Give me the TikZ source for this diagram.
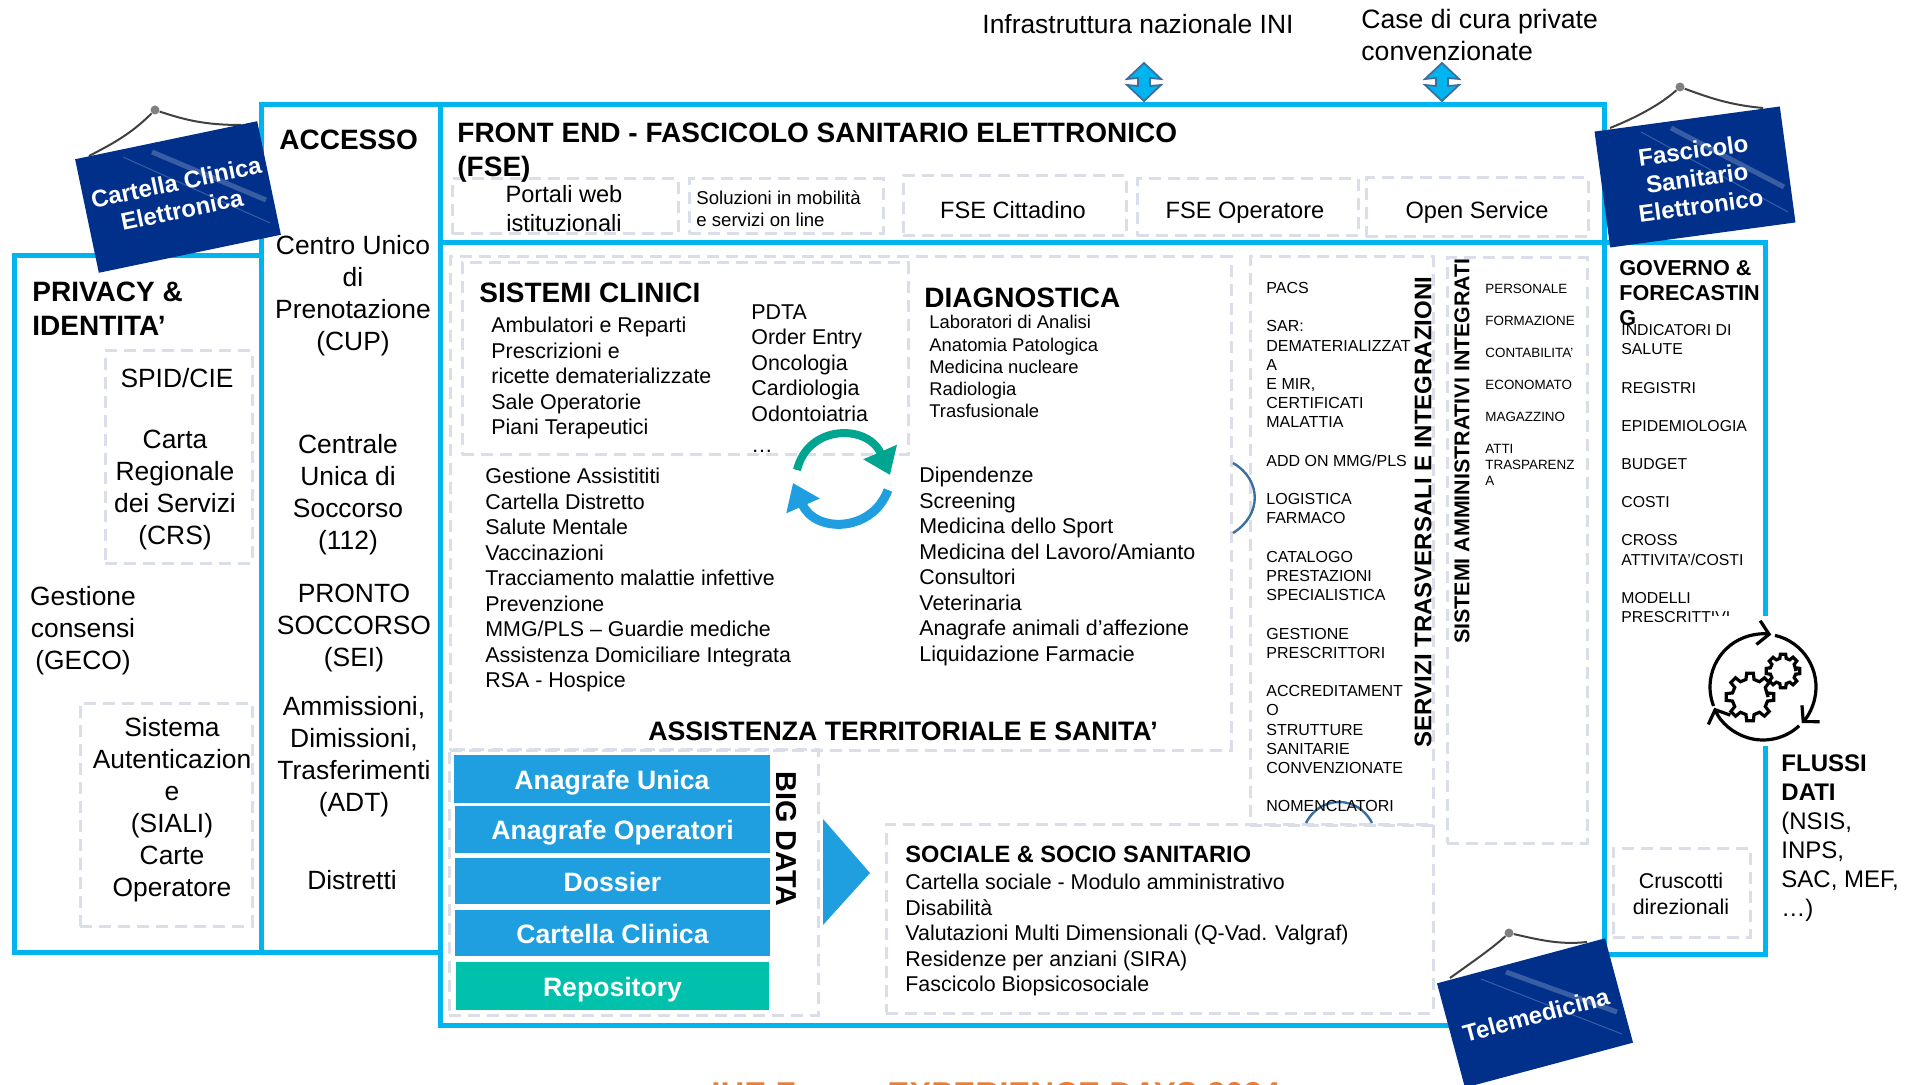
\documentclass[tikz,border=0pt]{standalone}
\usepackage{fontspec}
\setmainfont{Liberation Sans}
\usetikzlibrary{arrows.meta,fit}

\definecolor{linecyan}{HTML}{00B4F0}
\definecolor{dashgrey}{HTML}{D9DEE9}
\definecolor{barblue}{HTML}{1F9FE0}
\definecolor{barteal}{HTML}{00C2AC}
\definecolor{signnavy}{HTML}{00308A}
\definecolor{arcsteel}{HTML}{3B6FA0}
\definecolor{footorange}{HTML}{ED7D31}

\tikzset{
    areabox/.style={
           rectangle,
           draw=linecyan, line width=2.5pt,
           inner sep=0pt,
           },
    dashbox/.style={
           rectangle,
           draw=dashgrey, line width=1.5pt,
           dash pattern=on 6pt off 3.5pt,
           inner sep=0pt,
           },
    barbox/.style={
           rectangle,
           fill=barblue,
           inner sep=0pt,
           },
    bartext/.style={
           inner sep=0pt,
           text=white,
           text height=10pt,
           text depth=0pt,
           font=\fontsize{13.3}{16}\selectfont\bfseries,
           },
    signbox/.style={
           rectangle,
           fill=signnavy,
           inner sep=0pt,
           },
    signtext/.style={
           inner sep=0pt,
           text=white,
           align=center,
           font=\fontsize{12}{14}\selectfont\bfseries,
           },
    nail/.style={circle, fill=gray, inner sep=0pt, minimum size=4.5pt},
    hanger/.style={draw=black!75, line width=1pt},
    stripe/.style={draw=white, opacity=.22},
    exchange/.pic={
           \draw[fill=linecyan, draw=arcsteel, line width=.9pt]
            (0,-19) -- (17,-3) -- (6,-4) -- (6,4) -- (17,3) -- (0,19)
            -- (-17,3) -- (-6,4) -- (-6,-4) -- (-17,-3) -- cycle;
           },
    titletext/.style={inner sep=0pt, align=left, anchor=north west,
           font=\fontsize{14}{16.6}\selectfont\bfseries},
    bigtext/.style={inner sep=0pt, align=center,
           font=\fontsize{13.2}{16}\selectfont},
    midtext/.style={inner sep=0pt, align=center,
           font=\fontsize{11.8}{14.5}\selectfont},
    bodytext/.style={inner sep=0pt, align=left, anchor=north west,
           font=\fontsize{10.7}{12.75}\selectfont},
    sidetitle/.style={inner sep=0pt, font=\fontsize{12}{14}\selectfont\bfseries},
}

\begin{document}
\begin{tikzpicture}[x=.5pt,y=-.5pt]
 \useasboundingbox (0,0) rectangle (1906,1085);

 % the cyan areas
 \node[areabox, fit={(14,256) (261,952)}] (PRIVACY) {};
 \node[areabox, fit={(261,105) (440,952)}] (ACCESS) {};
 \node[areabox, fit={(440,105) (1604,243)}] (FRONT) {};
 \node[areabox, fit={(440,243) (1604,1025)}] (MAIN) {};
 \node[areabox, fit={(1604,243) (1765,954)}] (GOV) {};

 % dashed groups
 \node[dashbox, fit={(105,351) (252,563)}] (SPIDBOX) {};
 \node[dashbox, fit={(80,703) (252,926)}] (SIALIBOX) {};
 \node[dashbox, fit={(452,179) (678,234)}] (WEBBOX) {};
 \node[dashbox, fit={(689,179) (883,234)}] (MOBBOX) {};
 \node[dashbox, fit={(903,176) (1126,236)}] (CITBOX) {};
 \node[dashbox, fit={(1137,179) (1358,236)}] (OPBOX) {};
 \node[dashbox, fit={(1366,178) (1588,237)}] (OPENBOX) {};
 \node[dashbox, fit={(450,257) (1231,750)}] (TERRBOX) {};
 \node[dashbox, fit={(462,263) (908,455)}] (CLINBOX) {};
 \node[dashbox, fit={(1250,257) (1433,825)}] (SERVBOX) {};
 \node[dashbox, fit={(1447,258) (1587,843)}] (AMMBOX) {};
 \node[dashbox, fit={(449,749) (818,1015)}] (BIGBOX) {};
 \node[dashbox, fit={(886,824) (1433,1013)}] (SOCBOX) {};
 \node[dashbox, fit={(1613,848) (1750,937)}] (CRUBOX) {};

 % big data bars
 \node[barbox, fit={(454,755) (770,803)}] (ANAU) {};
 \node[bartext] (ANAUT) at (ANAU.center) {Anagrafe Unica};
 \node[barbox, fit={(455,806) (770,853)}] (ANAO) {};
 \node[bartext] (ANAOT) at (ANAO.center) {Anagrafe Operatori};
 \node[barbox, fit={(455,858) (770,904)}] (DOSS) {};
 \node[bartext] (DOSST) at (DOSS.center) {Dossier};
 \node[barbox, fit={(455,910) (770,956)}] (CART) {};
 \node[bartext] (CARTT) at (CART.center) {Cartella Clinica};
 \node[barbox, fill=barteal, fit={(456,962) (769,1010)}] (REPO) {};
 \node[bartext] (REPOT) at (REPO.center) {Repository};
 \node[bartext, text=black, rotate=-90, font=\fontsize{14.4}{16}\selectfont\bfseries] (BIG) at (786,839) {BIG DATA};
 \fill[barblue] (823,819) -- (870,873) -- (823,925) -- cycle;

 % top labels and exchange arrows
 \node[bigtext, align=left, anchor=west] (INI) at (982,24) {Infrastruttura nazionale INI};
 \node[bigtext, align=left, anchor=north west, font=\fontsize{13.3}{16}\selectfont] (CASE) at (1361,9) {Case di cura private\\convenzionate};
 \pic (INIARR) at (1144,82) {exchange};
 \pic (CASEARR) at (1442,82) {exchange};

 % privacy column
 \node[titletext] (PRIVT) at (32,282) {PRIVACY \&\\IDENTITA’};
 \node[bigtext] (SPID) at (177,378) {SPID/CIE};
 \node[bigtext, anchor=north] (CRS) at (175,430) {Carta\\Regionale\\dei Servizi\\(CRS)};
 \node[bigtext, anchor=north] (GECO) at (83,586) {Gestione\\consensi\\(GECO)};
 \node[bigtext, anchor=north] (SIALI) at (172,717) {Sistema\\Autenticazion\\e\\(SIALI)\\Carte\\Operatore};

 % access column
 \node[titletext] (ACCT) at (279,130) {ACCESSO};
 \node[bigtext, anchor=north] (CUP) at (353,235) {Centro Unico\\di\\Prenotazione\\(CUP)};
 \node[bigtext, anchor=north] (SOCC) at (348,434) {Centrale\\Unica di\\Soccorso\\(112)};
 \node[bigtext, anchor=north] (SEI) at (354,584) {PRONTO\\SOCCORSO\\(SEI)};
 \node[bigtext, anchor=north] (ADT) at (354,696) {Ammissioni,\\Dimissioni,\\Trasferimenti\\(ADT)};
 \node[bigtext] (DIST) at (352,880) {Distretti};

 % front end
 \node[titletext] (FET) at (457,123) {FRONT END - FASCICOLO SANITARIO ELETTRONICO\\(FSE)};
 \node[midtext] (WEB) at (564,209) {Portali web\\istituzionali};
 \node[inner sep=0pt, align=left, anchor=north west,
  font=\fontsize{9.3}{11}\selectfont] (MOB) at (696,190) {Soluzioni in mobilità\\e servizi on line};
 \node[midtext, anchor=base] (CIT) at (1013,219) {FSE Cittadino};
 \node[midtext, anchor=base] (OP) at (1245,219) {FSE Operatore};
 \node[midtext, anchor=base] (OPEN) at (1477,219) {Open Service};

 % clinical systems and diagnostics
 \node[titletext] (CLINT) at (479,283) {SISTEMI CLINICI};
 \node[bodytext] (CLIN) at (491,317) {Ambulatori e Reparti\\Prescrizioni e\\ricette dematerializzate\\Sale Operatorie\\Piani Terapeutici};
 \node[bodytext] (PDTA) at (751,304) {PDTA\\Order Entry\\Oncologia\\Cardiologia\\Odontoiatria\\[3pt]…};
 \node[titletext] (DIAT) at (924,288) {DIAGNOSTICA};
 \node[bodytext, font=\fontsize{9.2}{11.15}\selectfont] (DIAG) at (929,315) {Laboratori di Analisi\\Anatomia Patologica\\Medicina nucleare\\Radiologia\\Trasfusionale};

 % territory lists
 \node[bodytext] (TERRA) at (485,468) {Gestione Assistititi\\Cartella Distretto\\Salute Mentale\\Vaccinazioni\\Tracciamento malattie infettive\\Prevenzione\\MMG/PLS – Guardie mediche\\Assistenza Domiciliare Integrata\\RSA - Hospice};
 \node[bodytext] (TERRB) at (919,467) {Dipendenze\\Screening\\Medicina dello Sport\\Medicina del Lavoro/Amianto\\Consultori\\Veterinaria\\Anagrafe animali d’affezione\\Liquidazione Farmacie};
 \node[bartext, text=black, font=\fontsize{13.35}{16}\selectfont\bfseries] (TERRT) at (903,730) {ASSISTENZA TERRITORIALE E SANITA’};

 % the two round arrows
 \draw[draw=barteal!85!black, line width=4pt, -{Triangle[length=12.5pt,width=17.5pt]}]
  (797,470) .. controls (808,424) and (868,424) .. (890,475);
 \draw[draw=barblue, line width=4.5pt, -{Triangle[length=12.5pt,width=17.5pt]}]
  (888,490) .. controls (872,533) and (815,533) .. (793,483);

 % small arcs
 \draw[arcsteel, line width=1.2pt] (1233,463) .. controls (1262,480) and (1262,515) .. (1233,533);
 \draw[arcsteel, line width=1.2pt] (1306,823) .. controls (1320,795) and (1358,795) .. (1372,823);

 % transversal services
 \node[bodytext, font=\fontsize{8}{9.6}\selectfont] (SERV) at (1266,282) {PACS\\[9.6pt]SAR:\\DEMATERIALIZZAT\\A\\E MIR,\\CERTIFICATI\\MALATTIA\\[9.6pt]ADD ON MMG/PLS\\[9.6pt]LOGISTICA\\FARMACO\\[9.6pt]CATALOGO\\PRESTAZIONI\\SPECIALISTICA\\[9.6pt]GESTIONE\\PRESCRITTORI\\[9.6pt]ACCREDITAMENT\\O\\STRUTTURE\\SANITARIE\\CONVENZIONATE\\[9.6pt]NOMENCLATORI};
 \node[sidetitle, rotate=90] (SERVT) at (1423,512) {SERVIZI TRASVERSALI E INTEGRAZIONI};
 \node[sidetitle, rotate=90, font=\fontsize{10.7}{12}\selectfont\bfseries] (AMMT) at (1462,451) {SISTEMI AMMINISTRATIVI INTEGRATI};
 \node[bodytext, font=\fontsize{6.7}{8}\selectfont] (AMM) at (1485,284) {PERSONALE\\[8pt]FORMAZIONE\\[8pt]CONTABILITA’\\[8pt]ECONOMATO\\[8pt]MAGAZZINO\\[8pt]ATTI\\TRASPARENZ\\A};

 % government column
 \node[titletext, font=\fontsize{10.8}{12.5}\selectfont\bfseries] (GOVT) at (1619,260) {GOVERNO \&\\FORECASTIN\\G};
 \node[bodytext, font=\fontsize{7.9}{9.7}\selectfont] (GOVL) at (1621,324) {INDICATORI DI\\SALUTE\\[9.4pt]REGISTRI\\[9.4pt]EPIDEMIOLOGIA\\[9.4pt]BUDGET\\[9.4pt]COSTI\\[9.4pt]CROSS\\ATTIVITA’/COSTI\\[9.4pt]MODELLI\\PRESCRITTIVI};
 \node[bodytext, anchor=center, align=center] (CRU) at (1681,894) {Cruscotti\\direzionali};

 % gears icon, white patch first
 \fill[white] (1709,616) rectangle (1817,746);
 \coordinate (GEARS) at (1763,687);
 \begin{scope}[shift={(GEARS)}, line width=1.6pt]
  \draw[-{Straight Barb[length=5.5pt,width=12pt]}] (-201:53) arc[start angle=-201, end angle=-81, radius=53];
  \draw[-{Straight Barb[length=5.5pt,width=12pt]}] (-77:53) arc[start angle=-77, end angle=43, radius=53];
  \draw[-{Straight Barb[length=5.5pt,width=12pt]}] (47:53) arc[start angle=47, end angle=157, radius=53];
  \draw[shift={(-13,10)}] (0:18) \foreach \a in {0,45,...,315} { -- (\a-13:18) -- (\a-8:24) -- (\a+8:24) -- (\a+13:18) } -- cycle;
  \draw[shift={(20,-16)}] (0:13) \foreach \a in {0,45,...,315} { -- (\a-14:13) -- (\a-9:17) -- (\a+9:17) -- (\a+14:13) } -- cycle;
 \end{scope}

 \node[inner sep=0pt, align=left, anchor=north west,
  font=\fontsize{12}{14.5}\selectfont] (FLUSSI) at (1781,754) {\textbf{FLUSSI}\\\textbf{DATI}\\(NSIS,\\INPS,\\SAC, MEF,\\…)};

 % sociale
 \node[inner sep=0pt, anchor=north west, font=\fontsize{11.8}{14}\selectfont\bfseries] (SOCT) at (905,846) {SOCIALE \& SOCIO SANITARIO};
 \node[bodytext] (SOC) at (905,874) {Cartella sociale - Modulo amministrativo\\Disabilità\\Valutazioni Multi Dimensionali (Q-Vad. Valgraf)\\Residenze per anziani (SIRA)\\Fascicolo Biopsicosociale};

 % signs on top of everything
 \coordinate (CCleft) at (89,156);
 \coordinate (CCright) at (241,125);
 \node[nail] (CCnail) at (155,110) {};
 \draw[hanger] (CCleft) .. controls (110,145) and (130,135) .. (CCnail);
 \draw[hanger] (CCnail) .. controls (185,120) and (205,125) .. (CCright);
 \node[signbox, minimum width=93pt, minimum height=58pt, rotate=11.8] (CCsign) at (178,197) {};
 \draw[stripe, line width=.5pt] (123,157) -- (270,223);
 \draw[stripe, line width=2.5pt] (152,152) -- (266,200);
 \node[signtext, rotate=11.8] (CCtext) at (179,196) {Cartella Clinica\\Elettronica};

 \coordinate (FSleft) at (1610,128);
 \coordinate (FSright) at (1763,108);
 \node[nail] (FSnail) at (1680,87) {};
 \draw[hanger] (FSleft) .. controls (1635,118) and (1660,105) .. (FSnail);
 \draw[hanger] (FSnail) .. controls (1710,98) and (1730,105) .. (FSright);
 \node[signbox, minimum width=93.5pt, minimum height=58.5pt, rotate=7.7] (FSsign) at (1695,177) {};
 \draw[stripe, line width=.5pt] (1641,132) -- (1788,212);
 \draw[stripe, line width=2.5pt] (1671,128) -- (1784,187);
 \node[signtext, rotate=7.7] (FStext) at (1697,178) {Fascicolo\\Sanitario\\Elettronico};

 \coordinate (TMleft) at (1450,978);
 \coordinate (TMright) at (1587,942);
 \node[nail] (TMnail) at (1509,933) {};
 \draw[hanger] (TMleft) .. controls (1475,960) and (1490,950) .. (TMnail);
 \draw[hanger] (TMnail) .. controls (1540,940) and (1560,945) .. (TMright);
 \node[signbox, minimum width=87pt, minimum height=54pt, rotate=15] (TMsign) at (1535,1013) {};
 \draw[stripe, line width=.5pt] (1481,979) -- (1622,1034);
 \draw[stripe, line width=2.5pt] (1506,972) -- (1617,1012);
 \node[signtext, rotate=15] (TMtext) at (1536,1015) {Telemedicina};

 % orange line cut by the page edge
 \node[inner sep=0pt, anchor=north west, text=footorange,
  font=\fontsize{16.5}{18}\selectfont\bfseries] (FOOT) at (711,1082) {IHE Forum EXPERIENCE DAYS 2024};
\end{tikzpicture}
\end{document}
